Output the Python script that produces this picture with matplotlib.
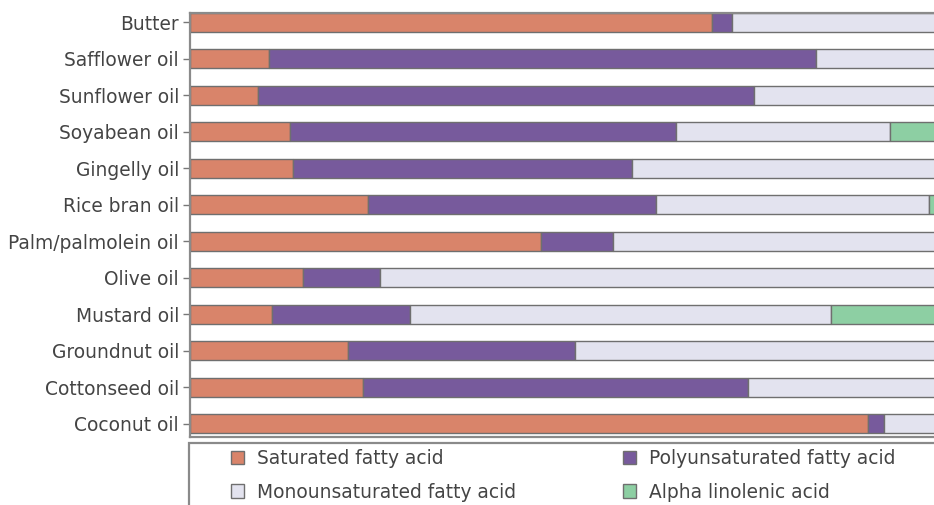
import matplotlib
matplotlib.use("Agg")
import matplotlib.pyplot as plt
from matplotlib.patches import Rectangle, Patch
import numpy as np

# Fatty acid composition of common cooking fats (% of total fatty acids)
oils = ["Butter", "Safflower oil", "Sunflower oil", "Soyabean oil", "Gingelly oil",
        "Rice bran oil", "Palm/palmolein oil", "Olive oil", "Mustard oil",
        "Groundnut oil", "Cottonseed oil", "Coconut oil"]
saturated = [68.0, 10.3, 8.9, 13.0, 13.4, 23.2, 45.7, 14.7, 10.7, 20.6, 22.5, 88.3]
polyunsaturated = [2.6, 71.2, 64.5, 50.3, 44.2, 37.5, 9.4, 10.0, 17.9, 29.5, 50.2, 2.1]
monounsaturated = [29.4, 18.5, 26.6, 27.8, 42.4, 35.5, 44.9, 75.3, 54.9, 49.9, 27.3, 9.6]
alpha_linolenic = [0.0, 0.0, 0.0, 8.9, 0.0, 3.8, 0.0, 0.0, 16.5, 0.0, 0.0, 0.0]

series = [
    ("Saturated fatty acid", saturated, "#d9846a"),
    ("Polyunsaturated fatty acid", polyunsaturated, "#775a9c"),
    ("Monounsaturated fatty acid", monounsaturated, "#e3e3ef"),
    ("Alpha linolenic acid", alpha_linolenic, "#8dcfa3"),
]

plt.rcParams["font.family"] = ["DejaVu Sans"]
W, H = 934, 505
fig = plt.figure(figsize=(W / 100, H / 100), dpi=100)

# axes run past the right edge of the canvas
x0, x1, ytop, ybot = 190, 958, 13, 437
ax = fig.add_axes([x0 / W, 1 - ybot / H, (x1 - x0) / W, (ybot - ytop) / H])

pos = np.arange(len(oils))
left = np.zeros(len(oils))
for name, vals, col in series:
    vals = np.array(vals)
    ax.barh(pos, vals, left=left, height=0.52, color=col,
            edgecolor="#6f6f6f", linewidth=1.0, label=name)
    left += vals

ax.set_xlim(0, 100)
ax.set_ylim(11.36, -0.26)
ax.set_yticks(pos)
ax.set_yticklabels(oils, fontsize=13.4, color="#444444")
ax.tick_params(axis="y", length=5, width=1, color="#777777", pad=3)
ax.tick_params(axis="x", bottom=False, labelbottom=False)
for side in ["left", "top", "bottom", "right"]:
    ax.spines[side].set_color("#8a8a8a")
    ax.spines[side].set_linewidth(1.6)

# legend frame (open to the right and bottom edges)
fig.patches.append(Rectangle((189 / W, -0.1), 1.0, (1 - 443 / H) + 0.1,
                             transform=fig.transFigure, fill=False,
                             edgecolor="#8a8a8a", linewidth=1.6))

handles = [Patch(facecolor=c, edgecolor="#6f6f6f", linewidth=1.0) for _, _, c in series]
labels = [n for n, _, _ in series]
# two columns: column 1 = saturated, monounsaturated; column 2 = polyunsaturated, alpha
h2 = [handles[0], handles[2], handles[1], handles[3]]
l2 = [labels[0], labels[2], labels[1], labels[3]]
leg = fig.legend(h2, l2, ncol=2, loc="upper left",
                 bbox_to_anchor=(231 / W, 1 - 449 / H),
                 frameon=False, fontsize=13.4, handlelength=0.7, handleheight=0.7,
                 handletextpad=0.7, columnspacing=5.75, labelspacing=0.78,
                 borderpad=0.0, borderaxespad=0.0)
for t in leg.get_texts():
    t.set_color("#444444")

fig.savefig("out.png", dpi=100)
